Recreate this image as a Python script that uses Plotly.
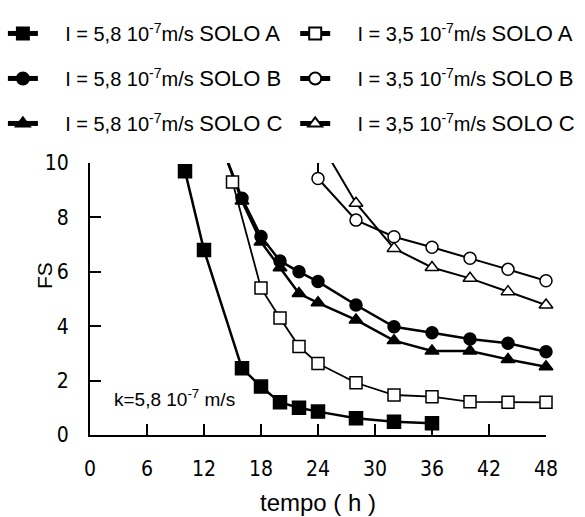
import plotly.graph_objects as go

# ---- data ----
a58_x = [10, 12, 16, 18, 20, 22, 24, 28, 32, 36]
a58_y = [9.7, 6.8, 2.45, 1.78, 1.2, 1.0, 0.86, 0.62, 0.49, 0.43]

a35_x = [15, 18, 20, 22, 24, 28, 32, 36, 40, 44, 48]
a35_y = [9.3, 5.4, 4.3, 3.25, 2.63, 1.92, 1.47, 1.41, 1.22, 1.2, 1.2]

b58_x = [14, 16, 18, 20, 22, 24, 28, 32, 36, 40, 44, 48]
b58_y = [10.5, 8.7, 7.3, 6.4, 6.0, 5.64, 4.78, 3.98, 3.76, 3.53, 3.37, 3.06]

b35_x = [24, 24, 28, 32, 36, 40, 44, 48]
b35_y = [10.5, 9.43, 7.9, 7.29, 6.9, 6.5, 6.09, 5.67]

c58_x = [14, 16, 18, 20, 22, 24, 28, 32, 36, 40, 44, 48]
c58_y = [10.5, 8.6, 7.1, 6.15, 5.2, 4.86, 4.23, 3.47, 3.09, 3.09, 2.78, 2.51]

c35_x = [24, 28, 32, 36, 40, 44, 48]
c35_y = [10.9, 8.52, 6.86, 6.16, 5.76, 5.27, 4.78]

x_ticks = [0, 6, 12, 18, 24, 30, 36, 42, 48]
y_ticks = [0, 2, 4, 6, 8, 10]

PAD = "&nbsp;&nbsp;&nbsp;&nbsp;"
labels = {
    "a58": PAD + "I = 5,8 10<sup>-7</sup>m/s <span style='font-size:22px'>SOLO A</span>",
    "a35": PAD + "I = 3,5 10<sup>-7</sup>m/s <span style='font-size:22px'>SOLO A</span>",
    "b58": PAD + "I = 5,8 10<sup>-7</sup>m/s <span style='font-size:22px'>SOLO B</span>",
    "b35": PAD + "I = 3,5 10<sup>-7</sup>m/s <span style='font-size:22px'>SOLO B</span>",
    "c58": PAD + "I = 5,8 10<sup>-7</sup>m/s <span style='font-size:22px'>SOLO C</span>",
    "c35": PAD + "I = 3,5 10<sup>-7</sup>m/s <span style='font-size:22px'>SOLO C</span>",
}

fig = go.Figure()


def sizes(ys, s):
    return [0 if v > 10 else s for v in ys]


def add(key, xs, ys, symbol, filled, legend, lw, ms):
    fig.add_trace(go.Scatter(
        x=xs, y=ys, mode="lines+markers", name=labels[key],
        legend=legend, legendgroup=key,
        line=dict(color="#000000", width=lw),
        marker=dict(symbol=symbol, size=sizes(ys, ms), opacity=1,
                    color="#000000" if filled else "#ffffff",
                    line=dict(color="#000000", width=1.5)),
        cliponaxis=False,
    ))


add("a58", a58_x, a58_y, "square", True, "legend", 2.5, 13)
add("b58", b58_x, b58_y, "circle", True, "legend", 2.5, 12)
add("c58", c58_x, c58_y, "triangle-up", True, "legend", 2.5, 12)
add("a35", a35_x, a35_y, "square", False, "legend2", 1.8, 12)
add("b35", b35_x, b35_y, "circle", False, "legend2", 2, 12)
add("c35", c35_x, c35_y, "triangle-up", False, "legend2", 2, 12)

leg_common = dict(
    orientation="v", traceorder="grouped", tracegroupgap=16,
    font=dict(family="Liberation Sans, Arial, sans-serif", size=20, color="black"),
    bgcolor="rgba(0,0,0,0)", yanchor="top", xanchor="left", itemsizing="constant",
)

fig.update_layout(
    width=585, height=517,
    margin=dict(l=90, r=39, t=163, b=82, autoexpand=False),
    paper_bgcolor="white", plot_bgcolor="white",
    showlegend=True,
    legend=dict(x=-0.191, y=1.548, **leg_common),
    legend2=dict(x=0.45, y=1.548, **leg_common),
    font=dict(family="Liberation Sans, Arial, sans-serif", color="black"),
    xaxis=dict(
        range=[0, 48], tickvals=x_ticks, ticktext=[str(v) for v in x_ticks],
        ticks="inside", ticklen=11, tickwidth=1.5, tickcolor="black",
        showline=True, linewidth=2, linecolor="black", showgrid=False, zeroline=False,
        tickfont=dict(family="Liberation Sans Narrow, DejaVu Sans Condensed, sans-serif", size=21),
        ticklabelstandoff=14, automargin=False,
        title=dict(text="tempo ( h )", font=dict(family="Liberation Sans, Arial, sans-serif", size=24), standoff=14),
    ),
    yaxis=dict(
        range=[0, 10], tickvals=y_ticks, ticktext=[str(v) for v in y_ticks],
        ticks="inside", ticklen=11, tickwidth=1.5, tickcolor="black",
        showline=True, linewidth=2, linecolor="black", showgrid=False, zeroline=False,
        tickfont=dict(family="Liberation Sans Narrow, DejaVu Sans Condensed, sans-serif", size=21),
        ticklabelstandoff=15, automargin=False,
    ),
    annotations=[
        dict(
            x=2.3, y=1.35, xref="x", yref="y", xanchor="left", yanchor="middle",
            text="k=5,8 10<sup>-7</sup> m/s", showarrow=False,
            font=dict(family="Liberation Sans, Arial, sans-serif", size=19, color="black"),
        ),
        dict(
            x=-0.101, y=0.588, xref="paper", yref="paper", xanchor="center", yanchor="middle",
            text="FS", textangle=-90, showarrow=False,
            font=dict(family="Liberation Sans, Arial, sans-serif", size=21, color="black"),
        ),
    ],
)

fig.write_html("out.html")
